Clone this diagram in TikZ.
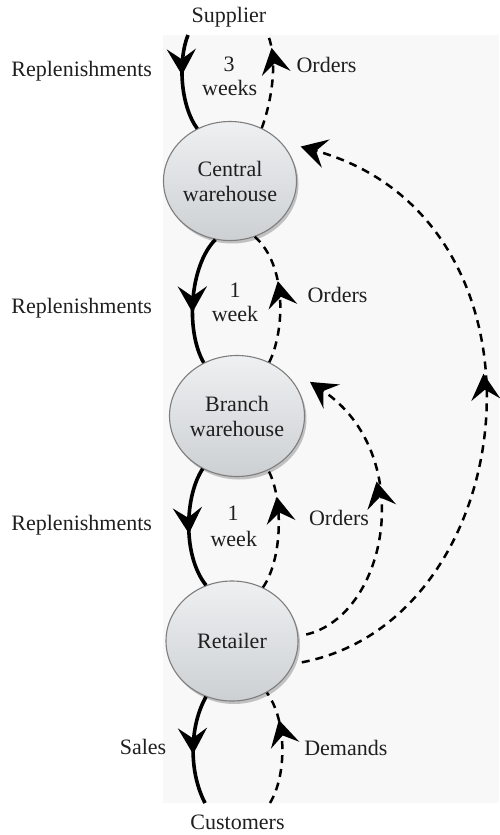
\documentclass[tikz,border=0pt]{standalone}
\usepackage{fontspec}
\setmainfont{Liberation Serif}
\usetikzlibrary{arrows.meta,decorations.markings,shapes.geometric,shadows}
\definecolor{bgc}{HTML}{F8F8F8}
\definecolor{ellTop}{HTML}{EEF0F2}
\definecolor{ellBot}{HTML}{CDD0D3}
\definecolor{ellLine}{HTML}{7E7E7E}
\tikzset{
  txt/.style={font=\fontsize{22}{24}\selectfont, inner sep=0pt, anchor=base, text=black!88},
  stock/.style={shape=ellipse, inner sep=0pt, draw=ellLine, line width=1.1pt,
    top color=ellTop, bottom color=ellBot, align=center,
    font=\fontsize{22}{25}\selectfont, text=black!88,
    drop shadow={shadow xshift=2pt, shadow yshift=-3pt, opacity=0.22, fill=black}},
  flow/.style={line width=3.6pt, draw=black},
  info/.style={line width=2.5pt, draw=black, dash pattern=on 8pt off 6pt},
  midtip/.style={postaction={decorate, decoration={markings,
      mark=at position #1 with {\arrow[solid]{Stealth[length=26pt,width=29pt,inset=10pt]}}}}},
  endtip/.style={-{Stealth[length=26pt,width=29pt,inset=10pt]}},
}
\begin{document}
\begin{tikzpicture}[x=1pt, y=-1pt]
\useasboundingbox (0,0) rectangle (499,835);
\fill[bgc] (163,35) rectangle (499,803);

% stock points
\node[stock, minimum width=131pt, minimum height=119pt] (cw) at (230,181) {Central\\warehouse};
\node[stock, minimum width=135pt, minimum height=121pt] (bw) at (237,416) {Branch\\warehouse};
\node[stock, minimum width=132pt, minimum height=120pt] (rt) at (232,641) {Retailer};

% end labels
\node[txt] (sup) at (229,22.5) {Supplier};
\node[txt] (cus) at (237.5,829.3) {Customers};

% free ends
\coordinate (s1) at (188,35);
\coordinate (s2) at (268,35);
\coordinate (c1) at (205,803);
\coordinate (c2) at (270,803);

% supplier <-> central
\draw[flow, midtip=0.42] (s1) .. controls (178,60) and (180,105) .. (cw.122);
\draw[info, midtip=0.86] (cw.59) .. controls (272,100) and (278,60) .. (s2);
\node[txt] (rep1) at (81.7,76) {Replenishments};
\node[txt] (lt1a) at (229,71) {3};
\node[txt] (lt1b) at (229.7,95) {weeks};
\node[txt] (ord1) at (326.5,72) {Orders};

% central <-> branch
\draw[flow, midtip=0.6] (cw.256) .. controls (190,265) and (185,330) .. (bw.122);
\draw[info, midtip=0.62] (bw.59) .. controls (285,330) and (287,265) .. (cw.294);
\node[txt] (rep2) at (81.7,313.3) {Replenishments};
\node[txt] (lt2a) at (235,297.3) {1};
\node[txt] (lt2b) at (235,321.7) {week};
\node[txt] (ord2) at (337.5,302.3) {Orders};

% branch <-> retailer
\draw[flow, midtip=0.55] (bw.237) .. controls (185,495) and (182,555) .. (rt.115);
\draw[info, midtip=0.77] (rt.60) .. controls (282,560) and (284,500) .. (bw.300);
\node[txt] (rep3) at (81.7,530) {Replenishments};
\node[txt] (lt3a) at (233,520.7) {1};
\node[txt] (lt3b) at (233.8,546) {week};
\node[txt] (ord3) at (339,525) {Orders};

% retailer <-> customers
\draw[flow, midtip=0.54] (rt.245) .. controls (190,725) and (188,770) .. (c1);
\draw[info, midtip=0.74] (c2) .. controls (287,775) and (287,720) .. (rt.304);
\node[txt] (sal) at (143,754) {Sales};
\node[txt] (dem) at (345.8,755) {Demands};

% long order arcs
\draw[info, endtip, midtip=0.6] ([shift={(5:8pt)}]rt.5) .. controls (388,615) and (418,455) .. ([shift={(25:14pt)}]bw.25);
\draw[info, endtip, midtip=0.545] ([shift={(-17:7pt)}]rt.-17) .. controls (525,620) and (566,220) .. ([shift={(26:13pt)}]cw.26);
\end{tikzpicture}
\end{document}
